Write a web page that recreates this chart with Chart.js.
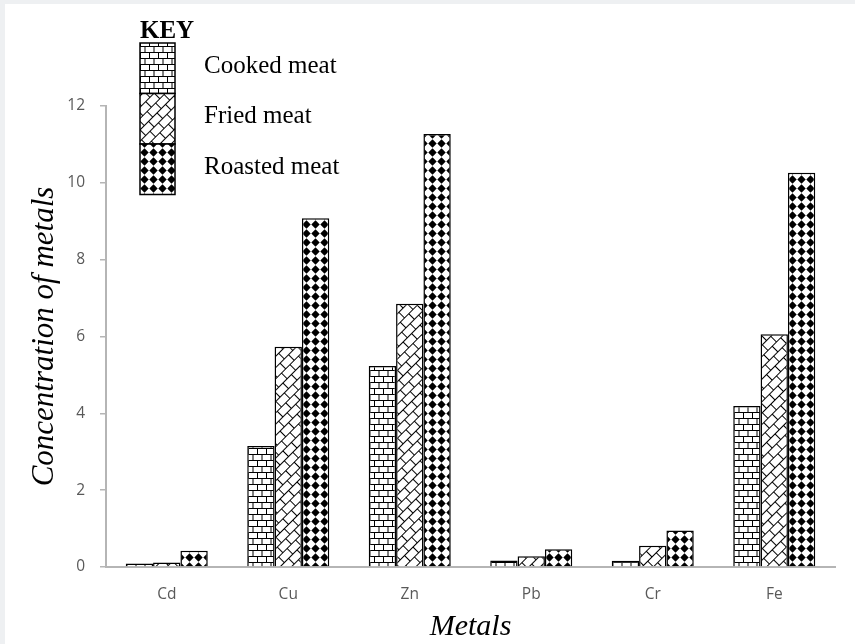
<!DOCTYPE html>
<html>
<head>
<meta charset="utf-8">
<script src="https://cdn.jsdelivr.net/npm/chart.js@4.4.1/dist/chart.umd.min.js"></script>
<style>
  body { margin: 0; background: #eef0f2; }
  #wrap { position: absolute; left: 5px; top: 4px; width: 850px; height: 640px; background: #fff; }
</style>
</head>
<body>
<div id="wrap"><canvas id="metals" width="850" height="640"></canvas></div>
<script>
// values
let METALS = ["Cd", "Cu", "Zn", "Pb", "Cr", "Fe"];
let COOKED = [0.09, 3.15, 5.23, 0.17, 0.16, 4.19];
let FRIED = [0.12, 5.73, 6.85, 0.28, 0.55, 6.06];
let ROASTED = [0.42, 9.08, 11.27, 0.46, 0.95, 10.26];
let Y_TICKS = [0, 2, 4, 6, 8, 10, 12];

var SERIF = "'Liberation Serif', 'Times New Roman', serif";
var SANS = "'Open Sans', sans-serif";
var AXIS_GREY = "#b5b5b5";

function makeTile(w, h, draw) {
  var c = document.createElement("canvas");
  c.width = w; c.height = h;
  var g = c.getContext("2d");
  g.fillStyle = "#fff";
  g.fillRect(0, 0, w, h);
  draw(g);
  return c;
}

// horizontal brick
function brickTile(w, h) {
  return makeTile(w, h, function (g) {
    g.strokeStyle = "#000";
    g.lineWidth = 1;
    var half = h / 2;
    g.beginPath();
    g.moveTo(0, 0.5); g.lineTo(w, 0.5);
    g.moveTo(0, half + 0.5); g.lineTo(w, half + 0.5);
    g.moveTo(0.5, 0); g.lineTo(0.5, half);
    g.moveTo(w / 2 + 0.5, 0); g.lineTo(w / 2 + 0.5, half);
    g.moveTo(w / 4 + 0.5, half); g.lineTo(w / 4 + 0.5, h);
    g.moveTo(3 * w / 4 + 0.5, half); g.lineTo(3 * w / 4 + 0.5, h);
    g.stroke();
  });
}

var ctx = document.getElementById("metals").getContext("2d");

var cookedFill = ctx.createPattern(brickTile(18, 12), "repeat");

var friedFill = ctx.createPattern(brickTile(24, 16), "repeat");
friedFill.setTransform(new DOMMatrix().rotateSelf(-45));

var roastedFill = ctx.createPattern(makeTile(9, 9, function (g) {
  g.fillStyle = "#000";
  g.beginPath();
  g.moveTo(4.5, 0.3); g.lineTo(8.7, 4.5); g.lineTo(4.5, 8.7); g.lineTo(0.3, 4.5);
  g.closePath();
  g.fill();
}), "repeat");

// the KEY box drawn by hand, top left
var keyPlugin = {
  id: "key",
  afterDraw: function (chart) {
    var c = chart.ctx;
    var x = 135, y = 39, bw = 35, bh = 50.5;
    c.save();
    c.fillStyle = "#000";
    c.font = "bold 25px " + SERIF;
    c.textBaseline = "alphabetic";
    c.fillText("KEY", x, 34);
    chart.data.datasets.forEach(function (ds, i) {
      var top = y + i * bh;
      c.fillStyle = ds.backgroundColor;
      c.fillRect(x, top, bw, bh);
      c.strokeStyle = "#000";
      c.lineWidth = 1.5;
      c.strokeRect(x, top, bw, bh);
      c.fillStyle = "#000";
      c.font = "25px " + SERIF;
      c.textBaseline = "middle";
      c.fillText(ds.label, 199, top + bh / 2 - 2);
    });
    c.restore();
  }
};

new Chart(ctx, {
  type: "bar",
  data: {
    labels: METALS,
    datasets: [
      { label: "Cooked meat", data: COOKED, backgroundColor: cookedFill },
      { label: "Fried meat", data: FRIED, backgroundColor: friedFill },
      { label: "Roasted meat", data: ROASTED, backgroundColor: roastedFill }
    ]
  },
  options: {
    responsive: false,
    animation: false,
    events: [],
    layout: { padding: { top: 102, right: 20, left: 0, bottom: 0 } },
    datasets: {
      bar: {
        borderColor: "#000",
        borderWidth: 1.5,
        categoryPercentage: 0.675,
        barPercentage: 1
      }
    },
    plugins: { legend: { display: false }, tooltip: { enabled: false } },
    scales: {
      x: {
        grid: { display: false, drawTicks: false },
        border: { display: true, color: AXIS_GREY, width: 2 },
        ticks: { color: "#595959", padding: 18, font: { family: SANS, size: 15.5 } },
        title: {
          display: true, text: "Metals", color: "#000",
          font: { family: SERIF, style: "italic", size: 30, lineHeight: 1 },
          padding: { top: 0, bottom: 2 }
        },
        afterFit: function (s) { s.height = 77; }
      },
      y: {
        min: 0, max: 12,
        afterBuildTicks: function (s) { s.ticks = Y_TICKS.map(function (v) { return { value: v }; }); },
        grid: { display: true, drawOnChartArea: false, drawTicks: true, tickLength: 6, color: AXIS_GREY, lineWidth: 1.5 },
        border: { display: true, color: AXIS_GREY, width: 2 },
        ticks: { color: "#595959", padding: 15, font: { family: SANS, size: 15.5 } },
        title: {
          display: true, text: "Concentration of metals", color: "#000",
          font: { family: SERIF, style: "italic", size: 31, lineHeight: 1 },
          padding: { top: 24, bottom: 0 }
        },
        afterFit: function (s) { s.width = 101; }
      }
    }
  },
  plugins: [keyPlugin]
});
</script>
</body>
</html>
